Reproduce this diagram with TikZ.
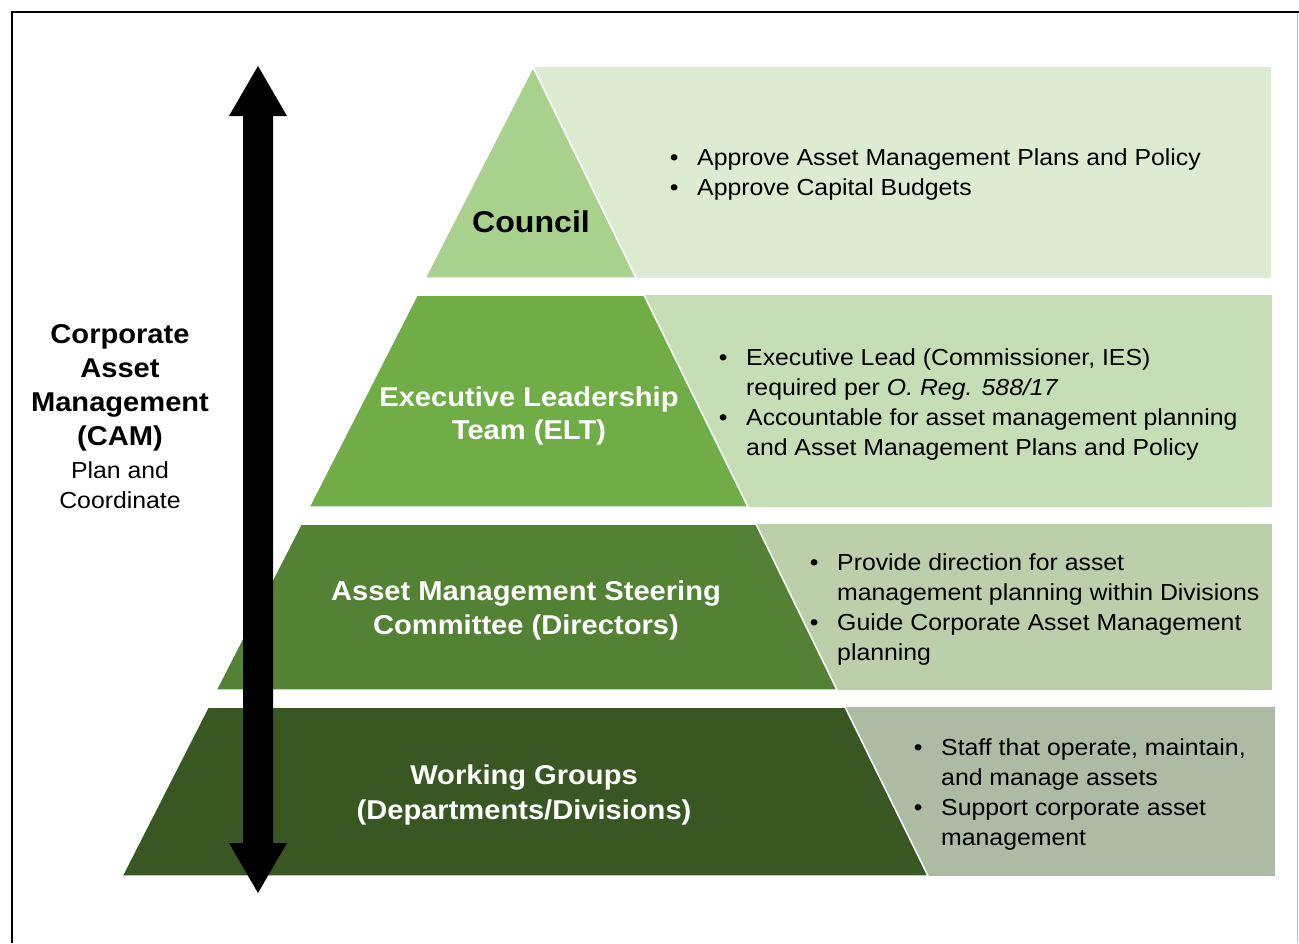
\documentclass[tikz,border=0pt]{standalone}
\usepackage{fontspec}
\setmainfont[FakeStretch=1.07]{Liberation Sans}
\definecolor{triA}{HTML}{A9D18E}
\definecolor{panA}{HTML}{DDEBD3}
\definecolor{triB}{HTML}{70AD47}
\definecolor{panB}{HTML}{C5DEB5}
\definecolor{triC}{HTML}{548235}
\definecolor{panC}{HTML}{BACFAA}
\definecolor{triD}{HTML}{385723}
\definecolor{panD}{HTML}{ADBAA4}
\newcommand{\bitem}{\llap{\makebox[46pt]{\textbullet}}}
\begin{document}
\begin{tikzpicture}[x=1pt,y=-1pt,
  shapeline/.style={draw=white,line width=1.5pt},
  lbl/.style={anchor=base,inner sep=0pt,font=\fontsize{27.2}{34}\selectfont\bfseries},
  lblw/.style={lbl,text=white},
  sub/.style={anchor=base,inner sep=0pt,font=\fontsize{23.2}{30}\selectfont},
  bul/.style={anchor=base west,inner sep=0pt,font=\fontsize{23.2}{30}\selectfont}]
\useasboundingbox (0,0) rectangle (1299,943);
\fill[white] (0,0) rectangle (1299,943);
% frame
\draw[line width=2.5pt] (12,943) -- (12,12) -- (1299,12);
\draw[black!25,line width=1pt] (1297.5,13) -- (1297.5,943);
% level 1
\fill[panA] (533,67) rectangle (1271,278);
\path[fill=triA,shapeline] (533,67) -- (636,278) -- (425,278) -- cycle;
% level 2
\fill[panB] (600,295) rectangle (1272,507);
\path[fill=triB,shapeline] (417,295) -- (644,295) -- (748,507) -- (309,507) -- cycle;
% level 3
\fill[panC] (700,524) rectangle (1272,690);
\path[fill=triC,shapeline] (301,524) -- (756,524) -- (837,690) -- (216,690) -- cycle;
% level 4
\fill[panD] (800,707) rectangle (1275,876);
\path[fill=triD,shapeline] (208,707) -- (845,707) -- (928,876) -- (122,876) -- cycle;
% double arrow
\fill[black] (258,66) -- (287,116) -- (273,116) -- (273,843) -- (287,843)
  -- (258,893) -- (229,843) -- (243,843) -- (243,116) -- (229,116) -- cycle;
% labels
\node[lbl,font=\fontsize{30}{36}\selectfont\bfseries] (council) at (531,232) {Council};
\node[lblw] (elt1) at (529,406) {Executive Leadership};
\node[lblw] (elt2) at (529,439) {Team (ELT)};
\node[lblw] (ams1) at (526,600) {Asset Management Steering};
\node[lblw] (ams2) at (526,634) {Committee (Directors)};
\node[lblw] (wg1) at (524,784) {Working Groups};
\node[lblw] (wg2) at (524,819) {(Departments/Divisions)};
\node[lbl] (cam1) at (120,343) {Corporate};
\node[lbl] (cam2) at (120,377) {Asset};
\node[lbl] (cam3) at (120,411) {Management};
\node[lbl] (cam4) at (120,445) {(CAM)};
\node[sub] (cam5) at (120,478) {Plan and};
\node[sub] (cam6) at (120,508) {Coordinate};
% bullets
\node[bul] (b1) at (697,165) {\begin{tabular}[t]{@{}l@{}}
\bitem Approve Asset Management Plans and Policy\\
\bitem Approve Capital Budgets\end{tabular}};
\node[bul] (b2) at (746,365) {\begin{tabular}[t]{@{}l@{}}
\bitem Executive Lead (Commissioner, IES)\\
required per \textit{O. Reg. 588/17}\\
\bitem Accountable for asset management planning\\
and Asset Management Plans and Policy\end{tabular}};
\node[bul] (b3) at (837,570) {\begin{tabular}[t]{@{}l@{}}
\bitem Provide direction for asset\\
management planning within Divisions\\
\bitem Guide Corporate Asset Management\\
planning\end{tabular}};
\node[bul] (b4) at (941,755) {\begin{tabular}[t]{@{}l@{}}
\bitem Staff that operate, maintain,\\
and manage assets\\
\bitem Support corporate asset\\
management\end{tabular}};
\end{tikzpicture}
\end{document}
